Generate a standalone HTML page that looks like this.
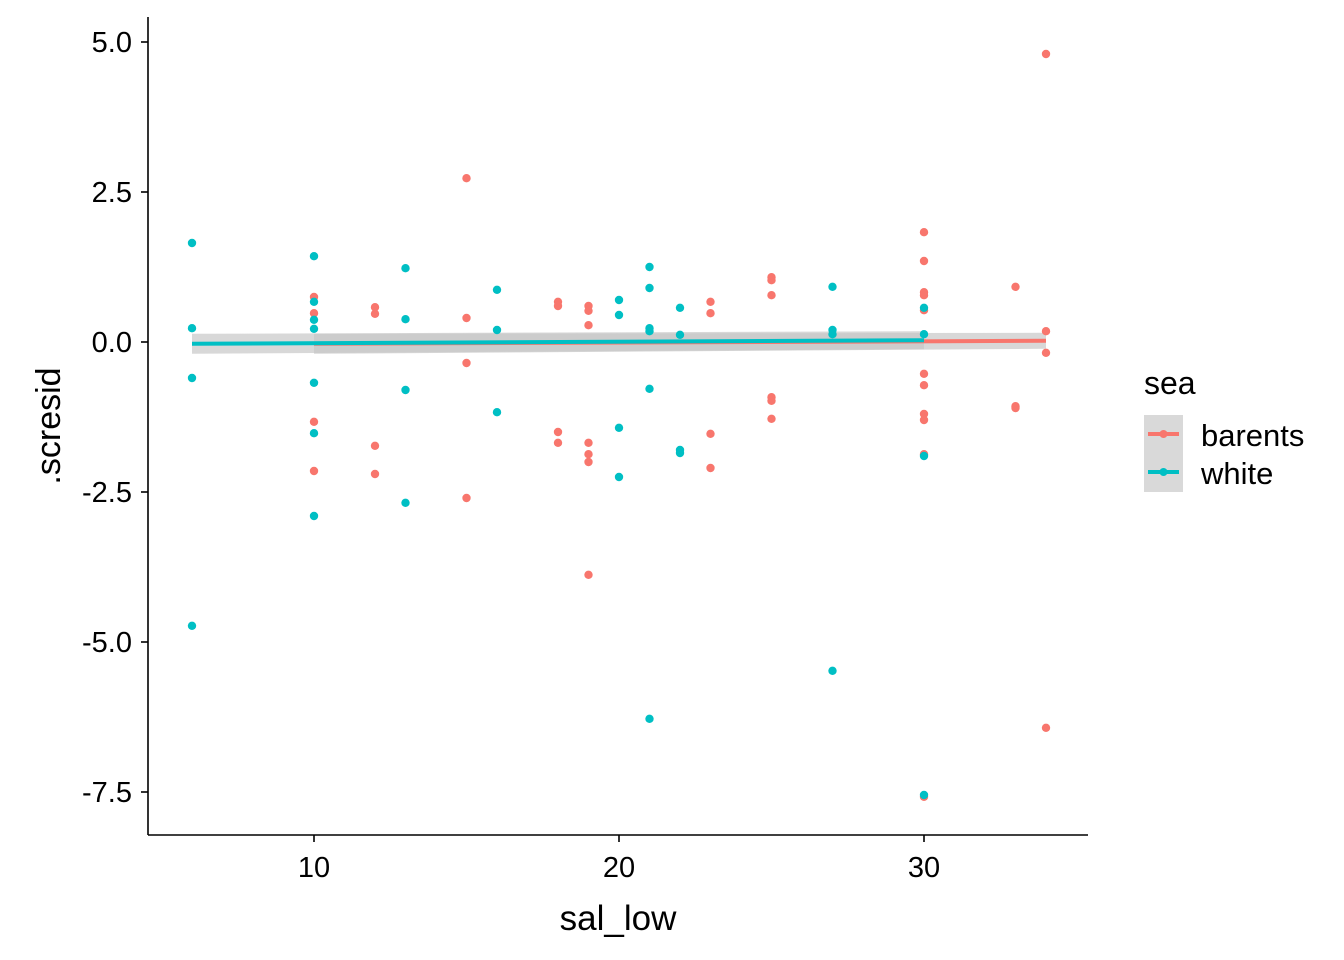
<!DOCTYPE html>
<html><head><meta charset="utf-8"><style>
body{margin:0;background:#fff;}
svg{display:block;font-family:"Liberation Sans",Arial,sans-serif;}
</style></head><body>
<svg id="chart" width="1344" height="960" viewBox="0 0 1344 960" xmlns="http://www.w3.org/2000/svg">
<rect width="1344" height="960" fill="#fff"/>
<g id="ribbons"></g><g id="lines"></g><g id="points"></g><g id="axes"></g>
<g>
<text x="1144" y="394" font-size="32" fill="#000">sea</text>
<rect x="1144" y="415" width="39" height="77" fill="#d9d9d9"/>
<g>
<line x1="1148" y1="434" x2="1179" y2="434" stroke="#F8766D" stroke-width="4"/><circle cx="1163.5" cy="434" r="4" fill="#F8766D"/>
<text x="1201" y="446" font-size="31" fill="#000">barents</text></g>
<g>
<line x1="1148" y1="472" x2="1179" y2="472" stroke="#00BFC4" stroke-width="4"/><circle cx="1163.5" cy="472" r="4" fill="#00BFC4"/>
<text x="1201" y="484" font-size="31" fill="#000">white</text></g>
</g>
</svg>
<script>
const whiteX=[6,6,6,6,10,10,10,10,10,10,10,13,13,13,13,16,16,16,20,20,20,20,21,21,21,21,21,21,22,22,22,22,27,27,27,27,30,30,30,30];
const whiteY=[1.65,0.23,-0.6,-4.73,1.43,0.67,0.37,0.22,-0.68,-1.52,-2.9,1.23,0.38,-0.8,-2.68,0.87,0.2,-1.17,0.7,0.45,-1.43,-2.25,1.25,0.9,0.23,0.18,-0.78,-6.28,0.57,0.12,-1.8,-1.85,0.92,0.2,0.13,-5.48,0.57,0.13,-1.9,-7.55];
const barX=[10,10,10,10,12,12,12,12,15,15,15,15,18,18,18,18,19,19,19,19,19,19,19,23,23,23,23,25,25,25,25,25,25,30,30,30,30,30,30,30,30,30,30,30,33,33,33,34,34,34,34];
const barY=[0.75,0.48,-1.33,-2.15,0.58,0.47,-1.73,-2.2,2.73,0.4,-0.35,-2.6,0.67,0.6,-1.5,-1.68,0.6,0.52,0.28,-1.68,-1.87,-2.0,-3.88,0.67,0.48,-1.53,-2.1,1.08,1.03,0.78,-0.92,-0.98,-1.28,1.83,1.35,0.83,0.78,0.53,-0.53,-0.72,-1.2,-1.3,-1.87,-7.58,0.92,-1.07,-1.1,4.8,0.18,-0.18,-6.43];
const fitWhite=[6,-0.03,30,0.03];
const fitBar=[10,-0.03,34,0.02];
const xTicks=[10,20,30];
const yTicks=[5,2.5,0,-2.5,-5,-7.5];
const yTickLabels=["5.0","2.5","0.0","-2.5","-5.0","-7.5"];
const NS="http://www.w3.org/2000/svg";
const sx=v=>314+(v-10)*30.5, sy=v=>342-v*60;
function mk(t,a,p){const e=document.createElementNS(NS,t);for(const k in a)e.setAttribute(k,a[k]);document.getElementById(p).appendChild(e);return e;}
function ribbon(f,w0,w1,col,name){
 const x0=sx(f[0]),x1=sx(f[2]),ya=sy(f[1]),yb=sy(f[3]);
 const r=mk('polygon',{points:`${x0},${ya-w0} ${x1},${yb-w1} ${x1},${yb+w1} ${x0},${ya+w0}`,fill:'#c8c8c8','fill-opacity':0.7},'ribbons');
 
 
 const l=mk('line',{x1:x0,y1:ya,x2:x1,y2:yb,stroke:col,'stroke-width':4},'lines');
 
 
}
ribbon(fitBar,10,8,'#F8766D','barents-fit-ribbon');
ribbon(fitWhite,10,9,'#00BFC4','white-fit-ribbon');
barX.forEach((x,i)=>{const c=mk('circle',{cx:sx(x),cy:sy(barY[i]),r:4.2,fill:'#F8766D'},'points');
 
 });
whiteX.forEach((x,i)=>{const c=mk('circle',{cx:sx(x),cy:sy(whiteY[i]),r:4.2,fill:'#00BFC4'},'points');
 
 });
let a=mk('line',{x1:148,y1:17,x2:148,y2:835,stroke:'#000','stroke-width':1.6},'axes');


a=mk('line',{x1:148,y1:835,x2:1088,y2:835,stroke:'#000','stroke-width':1.6},'axes');


xTicks.forEach(t=>{mk('line',{x1:sx(t),y1:835,x2:sx(t),y2:842,stroke:'#000','stroke-width':1.6},'axes');
 const e=mk('text',{x:sx(t),y:877,'font-size':29,'text-anchor':'middle',fill:'#000'},'axes');e.textContent=t;
 
 });
yTicks.forEach((t,i)=>{mk('line',{x1:141,y1:sy(t),x2:148,y2:sy(t),stroke:'#000','stroke-width':1.6},'axes');
 const e=mk('text',{x:132,y:sy(t)+10,'font-size':29,'text-anchor':'end',fill:'#000'},'axes');e.textContent=yTickLabels[i];
 
 });
let t=mk('text',{x:618,y:930,'font-size':35,'text-anchor':'middle',fill:'#000'},'axes');t.textContent='sal_low';


t=mk('text',{x:0,y:0,'font-size':34,'text-anchor':'middle',fill:'#000',transform:'translate(60,426) rotate(-90)'},'axes');t.textContent='.scresid';


</script>
</body></html>
